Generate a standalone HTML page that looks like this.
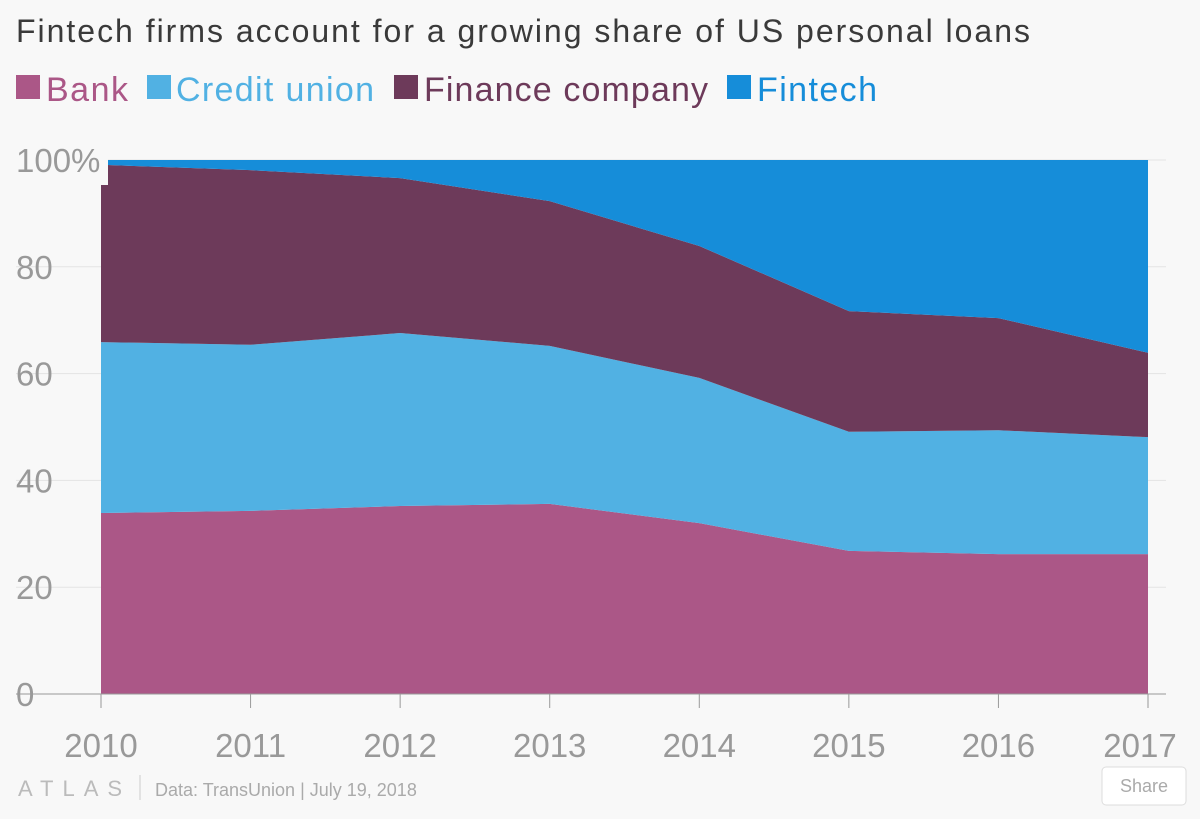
<!DOCTYPE html>
<html><head><meta charset="utf-8"><style>
body{margin:0;background:#f8f8f8;width:1200px;height:814px;overflow:hidden;font-family:"Liberation Sans",sans-serif}
</style></head><body>
<svg width="1200" height="814">
<text x="16" y="42" font-size="32" fill="#3a3a3a" textLength="1014" lengthAdjust="spacing">Fintech firms account for a growing share of US personal loans</text>
<g font-size="34">
<g><rect x="16" y="75" width="24" height="24" fill="#ab5787"/><text x="46" y="101" fill="#ab5787" textLength="82">Bank</text></g>
<g><rect x="147" y="75" width="24" height="24" fill="#51b1e3"/><text x="176" y="101" fill="#51b1e3" textLength="198">Credit union</text></g>
<g><rect x="394" y="75" width="24" height="24" fill="#6d3a5a"/><text x="424" y="101" fill="#6d3a5a" textLength="284">Finance company</text></g>
<g><rect x="727" y="75" width="24" height="24" fill="#168dd9"/><text x="757" y="101" fill="#168dd9" textLength="120">Fintech</text></g>
</g>
<g id="grid"></g>
<g id="areas"></g>
<g id="axes"></g>
<text x="155" y="796" font-size="18" fill="#aaa">Data:  TransUnion | July 19, 2018</text>
<text x="18" y="796" font-size="22" fill="#bbb" letter-spacing="9">ATLAS</text>
<line x1="140" y1="775" x2="140" y2="800" stroke="#ccc"/>
<g><rect x="1102" y="767" width="84" height="38" rx="4" fill="#fff" stroke="#ddd"/><text x="1144" y="792" font-size="18" fill="#aaa" text-anchor="middle">Share</text></g>
</svg>
<script>
const years=[2010,2011,2012,2013,2014,2015,2016,2017];
const bank=[33.9,34.3,35.2,35.6,32.0,26.8,26.2,26.2];
const creditUnion=[32.0,31.1,32.4,29.6,27.2,22.3,23.2,21.9];
const financeCompany=[33.2,32.7,29.0,27.1,24.7,22.6,21.0,15.8];
const fintech=[0.9,1.9,3.4,7.7,16.1,28.3,29.6,36.1];
const yTicks=[0,20,40,60,80,100];
const ns="http://www.w3.org/2000/svg";
const X=i=>101+i*(1148-101)/(years.length-1);
const Y=v=>694-v*5.34;
const mk=(t,a)=>{const e=document.createElementNS(ns,t);for(const k in a)e.setAttribute(k,a[k]);return e;};
const grid=document.getElementById('grid'),areas=document.getElementById('areas'),axes=document.getElementById('axes');
yTicks.forEach(t=>{
  const l=mk('line',{x1:16,x2:1166,y1:Y(t),y2:Y(t),stroke:t===0?'#999':'#e4e4e4'});
  
  
  grid.appendChild(l);
});
const series=[[bank,'#ab5787','area-bank'],[creditUnion,'#51b1e3','area-credit-union'],[financeCompany,'#6d3a5a','area-finance-company'],[fintech,'#168dd9','area-fintech']];
let base=years.map(()=>0);
series.forEach(([vals,col,name])=>{
  const top=base.map((b,i)=>b+vals[i]);
  let d='M'+top.map((v,i)=>X(i)+','+Y(v)).join('L');
  for(let i=years.length-1;i>=0;i--)d+='L'+X(i)+','+Y(base[i]);
  const p=mk('path',{d:d+'Z',fill:col});
  
  
  areas.appendChild(p);
  base=top;
});
const bl=mk('line',{x1:16,x2:1166,y1:Y(0),y2:Y(0),stroke:'#999'});


axes.appendChild(bl);
const cover=mk('rect',{x:0,y:140,width:108,height:45,fill:'#f8f8f8'});


axes.appendChild(cover);
yTicks.forEach(t=>{
  const tx=mk('text',{x:16,y:Y(t)+12,'font-size':33,fill:'#999'});
  tx.textContent=t===100?'100%':t;
  
  
  axes.appendChild(tx);
});
years.forEach((yr,i)=>{
  const tk=mk('line',{x1:X(i),x2:X(i),y1:694,y2:708,stroke:'#999'});
  
  
  axes.appendChild(tk);
  const tx=mk('text',{x:X(i)-(i===years.length-1?8:0),y:757,'font-size':33,fill:'#999','text-anchor':'middle'});
  tx.textContent=yr;
  
  
  axes.appendChild(tx);
});
</script>
</body></html>
